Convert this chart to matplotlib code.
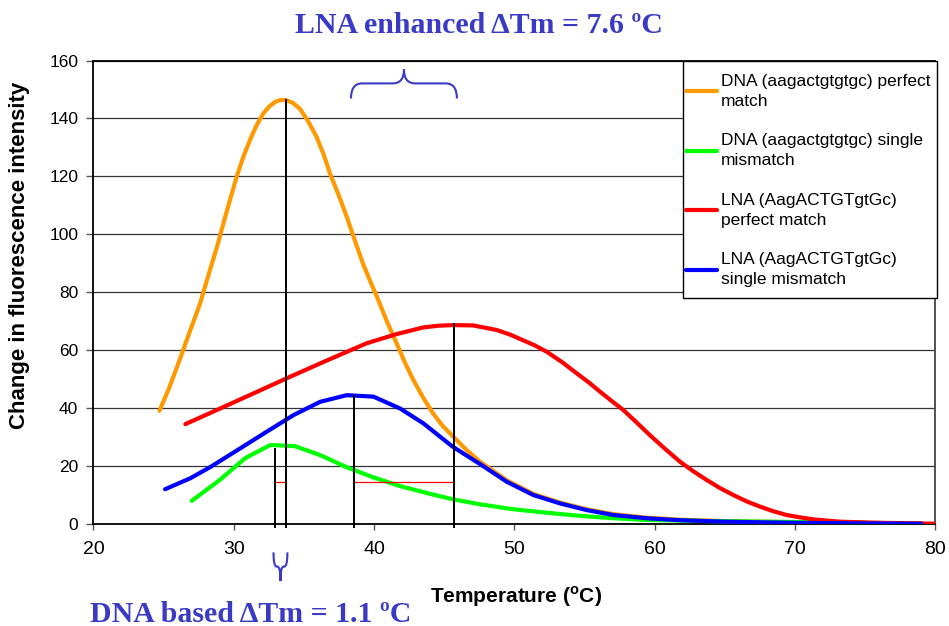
import matplotlib.pyplot as plt
from matplotlib.path import Path
from matplotlib.patches import PathPatch, Rectangle

plt.rcParams['font.family'] = ['Liberation Sans', 'DejaVu Sans']
plt.rcParams['mathtext.fontset'] = 'custom'
plt.rcParams['mathtext.rm'] = 'Liberation Sans'
plt.rcParams['mathtext.bf'] = 'Liberation Sans:bold'

# DNA (aagactgtgtgc) perfect match
t_dna_pm = [24.7, 25.4, 26.05, 26.8, 27.6, 28.2, 28.8, 29.5, 30.2, 30.7, 31.15, 31.6,
            32.1, 32.5, 32.95, 33.3, 33.7, 34.2, 34.7, 35.3, 35.9, 36.4, 36.85, 37.45,
            38.05, 38.6, 39.2, 39.7, 40.2, 40.9, 41.6, 42.2, 42.8, 43.5, 44.2, 44.9,
            45.65, 46.6, 47.55, 49.45, 51.35, 53.25, 55.15, 57.05, 59.4, 61.8, 65.0,
            70.0, 75.0, 79.0]
f_dna_pm = [39.0, 47.0, 55.4, 65.5, 76.1, 86.0, 95.6, 108.0, 119.8, 127.0, 132.5, 137.4,
            141.7, 144.0, 145.7, 146.3, 146.4, 145.4, 143.4, 139.0, 133.6, 127.6, 121.0, 113.8,
            106.0, 98.2, 89.9, 84.0, 78.4, 70.0, 62.3, 55.6, 49.6, 43.5, 38.1, 33.7,
            30.0, 25.4, 21.4, 15.0, 10.3, 7.3, 5.0, 3.3, 2.1, 1.4, 0.9,
            0.5, 0.3, 0.2]

# DNA (aagactgtgtgc) single mismatch
t_dna_mm = [27.0, 29.0, 30.8, 32.6, 34.35, 36.15, 38.05, 39.95, 41.85, 44.0, 45.65, 47.55,
            49.9, 52.3, 54.7, 57.05, 59.4, 64.2, 70.0, 75.0]
f_dna_mm = [7.9, 15.1, 22.6, 27.2, 26.8, 23.7, 19.5, 16.0, 13.0, 10.3, 8.4, 6.7,
            5.0, 3.8, 2.7, 1.9, 1.3, 0.9, 0.6, 0.4]

# LNA (AagACTGTgtGc) perfect match
t_lna_pm = [26.55, 28.8, 32.35, 33.75, 36.4, 39.45, 41.6, 43.5, 44.6, 45.65, 47.05, 48.75,
            49.7, 50.6, 51.45, 52.3, 53.4, 54.45, 55.3, 56.1, 56.9, 57.75, 58.7, 59.65,
            60.7, 61.8, 62.75, 63.7, 64.65, 65.6, 66.55, 67.5, 68.45, 69.4, 70.35, 71.3,
            73.2, 76.0, 80.0]
f_lna_pm = [34.4, 39.3, 47.1, 50.2, 55.9, 62.3, 65.5, 67.8, 68.4, 68.6, 68.5, 66.9,
            65.3, 63.4, 61.6, 59.4, 55.8, 51.9, 48.8, 45.6, 42.5, 39.3, 35.0, 30.6,
            26.0, 21.4, 18.1, 15.1, 12.3, 9.9, 7.7, 5.9, 4.3, 3.0, 2.2, 1.5,
            0.7, 0.3, 0.0]

# LNA (AagACTGTgtGc) single mismatch
t_lna_mm = [25.1, 26.9, 28.3, 30.45, 32.35, 34.25, 36.15, 38.05, 39.95, 41.85, 43.5, 45.6,
            47.55, 49.45, 51.35, 53.25, 55.15, 57.05, 59.4, 61.8, 65.0, 70.0, 75.0, 79.0]
f_lna_mm = [11.9, 15.7, 19.5, 26.0, 31.8, 37.5, 42.1, 44.4, 43.9, 39.8, 34.7, 26.6,
            20.6, 14.5, 9.9, 7.0, 4.7, 3.0, 1.9, 1.2, 0.7, 0.3, 0.1, 0.0]

labels = ['DNA (aagactgtgtgc) perfect\nmatch',
          'DNA (aagactgtgtgc) single\nmismatch',
          'LNA (AagACTGTgtGc)\nperfect match',
          'LNA (AagACTGTgtGc)\nsingle mismatch']
colors = ['#FF9900', '#00FF00', '#FF0000', '#0000FF']

# melting temperatures marked on the chart and the height of each marker line
tm_dna_mm, tm_dna_pm, tm_lna_mm, tm_lna_pm = 32.93, 33.72, 38.55, 45.7
tm_tops = [25.8, 146.4, 44.2, 69.0]
delta_level = 14.5

brace_col = '#3a3ac4'
W, H = 949, 626


def brace(ax, x0, x1, y_end, y_mid, y_tip, r):
    xm = (x0 + x1) / 2
    verts = [(x0, y_end), (x0, y_mid), (x0 + r, y_mid),
             (xm - r, y_mid), (xm, y_mid), (xm, y_tip),
             (xm, y_mid), (xm + r, y_mid),
             (x1 - r, y_mid), (x1, y_mid), (x1, y_end)]
    codes = [Path.MOVETO, Path.CURVE3, Path.CURVE3,
             Path.LINETO, Path.CURVE3, Path.CURVE3,
             Path.CURVE3, Path.CURVE3,
             Path.LINETO, Path.CURVE3, Path.CURVE3]
    ax.add_patch(PathPatch(Path(verts, codes), fill=False, edgecolor=brace_col,
                           lw=1.5, clip_on=False, zorder=6))


fig = plt.figure(figsize=(9.49, 6.26), dpi=100)
ax = fig.add_axes([0.0985, 0.1634, 0.8872, 0.7399])

series = [(t_dna_pm, f_dna_pm), (t_dna_mm, f_dna_mm), (t_lna_pm, f_lna_pm), (t_lna_mm, f_lna_mm)]
handles = []
for (t, f), c, lab in zip(series, colors, labels):
    ln, = ax.plot(t, f, color=c, lw=3, label=lab, solid_capstyle='round', zorder=3)
    handles.append(ln)

# Tm marker lines
for tm, top in zip([tm_dna_mm, tm_dna_pm, tm_lna_mm, tm_lna_pm], tm_tops):
    ax.plot([tm, tm], [-1.2, top], color='black', lw=1.4, zorder=5, clip_on=False)
ax.plot([tm_dna_mm, tm_dna_pm], [delta_level, delta_level], color='red', lw=0.9, zorder=4)
ax.plot([tm_lna_mm, tm_lna_pm], [delta_level, delta_level], color='red', lw=0.9, zorder=4)

brace(ax, tm_lna_mm - 0.2, tm_lna_pm + 0.2, 146.9, 152.1, 156.9, 0.8)
brace(ax, tm_dna_mm - 0.1, tm_dna_pm + 0.1, -9.9, -14.8, -19.8, 0.22)

ax.set_xlim(20, 80)
ax.set_ylim(0, 160)
ax.set_xticks(range(20, 81, 10))
ax.set_yticks(range(0, 161, 20))
ax.yaxis.grid(True, color='#333333', lw=0.9)
ax.set_axisbelow(True)
ax.tick_params(axis='x', labelsize=14, length=4.5, width=1, color='#555555', pad=8)
ax.tick_params(axis='y', labelsize=12.5, length=5, width=1, color='#555555', pad=6)
for s in ax.spines.values():
    s.set_color('black')
    s.set_linewidth(1.3)
ax.spines['right'].set_color('#444444')

# legend box (frame drawn separately so the padding can match the original)
fig.add_artist(Rectangle((682.5 / W, 1 - 298.5 / H), (937 - 682.5) / W, (298.5 - 61) / H,
                         transform=fig.transFigure, facecolor='white', edgecolor='black',
                         lw=1.0, zorder=2))
leg = fig.legend(handles, labels, loc='upper left', bbox_to_anchor=(686 / W, 1 - 74 / H),
                 frameon=False, borderpad=0, borderaxespad=0, fontsize=12.5,
                 handlelength=1.8, handletextpad=0.2, labelspacing=1.42)
leg.set_zorder(3)
for txt in leg.get_texts():
    txt.set_linespacing(1.4)

fig.text(479 / W, 1 - 33.3 / H, 'LNA enhanced ΔTm = 7.6 ºC', ha='center', va='baseline',
         family='Liberation Serif', weight='bold', fontsize=21.5, color=brace_col)
fig.text(90 / W, 1 - 621.7 / H, 'DNA based ΔTm = 1.1 ºC', ha='left', va='baseline',
         family='Liberation Serif', weight='bold', fontsize=21.5, color=brace_col)
fig.text(516.5 / W, 1 - 603 / H, r'Temperature ($^{\mathbf{o}}$C)', ha='center',
         va='baseline', weight='bold', fontsize=15)
fig.text(19.5 / W, 1 - 255 / H, 'Change in fluorescence intensity', rotation=90,
         ha='center', va='center', weight='bold', fontsize=16)

fig.savefig('out.png', dpi=100)
